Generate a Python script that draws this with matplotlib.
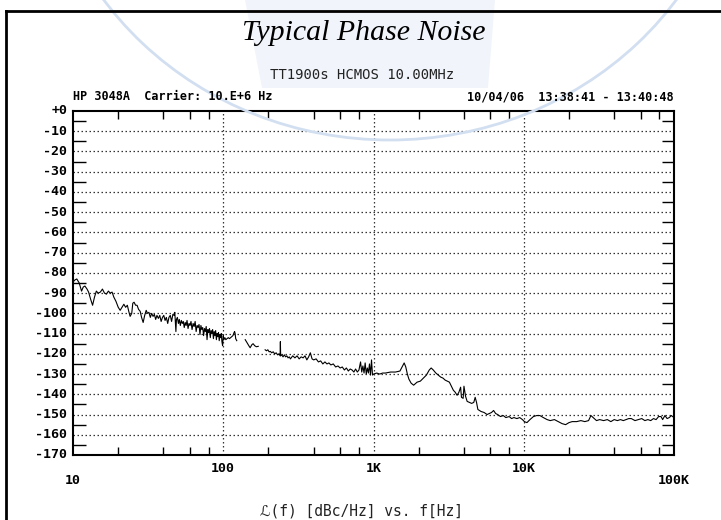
import numpy as np
import matplotlib
matplotlib.use("Agg")
import matplotlib.pyplot as plt
from matplotlib.lines import Line2D
from matplotlib.patches import Polygon, Ellipse
from matplotlib.ticker import FixedLocator, NullFormatter

# Trace data: offset frequency [Hz] and L(f) [dBc/Hz]
# segment 1: 10 Hz .. ~125 Hz
seg1_f = [10, 10.3, 10.6, 11.0, 11.4, 11.7, 12.0, 12.4, 12.7, 13.1, 13.5, 13.9, 14.3, 14.7,
          15.2, 15.7, 16.2, 16.7, 17.2, 17.7, 18.2, 18.7, 19.3, 20.0, 20.6, 21.2, 21.8, 22.4,
          23.0, 23.5, 24.0, 24.6, 25.0, 25.5, 26.1, 26.7, 27.3, 28.0, 28.6, 29.3, 30.0, 30.7,
          31.3, 32.0, 32.7, 33.4, 34.1, 34.8, 35.5, 36.2, 37.0, 37.8, 38.6, 39.4, 40.2, 41.0,
          41.8, 42.7, 43.5, 44.4, 45.3, 46.2, 47.1, 47.6, 48.0, 48.4, 48.8, 49.5, 50.3, 51.0,
          51.8, 52.6, 53.4, 54.2, 55.0, 55.8, 56.6, 57.4, 58.3, 59.2, 60.1, 61.0, 62.0, 63.0,
          64.0, 65.0, 66.0, 67.0, 68.0, 69.0, 70.0, 71.0, 72.0, 73.0, 74.0, 75.0, 76.0, 77.0,
          78.0, 79.0, 80.0, 81.0, 82.0, 83.0, 84.0, 85.0, 86.0, 87.0, 88.0, 89.0, 90.0, 91.0,
          92.0, 93.0, 94.0, 95.0, 96.0, 97.0, 98.0, 99.0, 100.0, 101, 102.5, 104, 106, 108,
          110, 112, 114, 116, 118, 119, 120, 121, 123]
seg1_db = [-84.5, -83.5, -83, -85, -89, -87, -86.5, -88, -89.5, -93, -96, -92, -89, -90,
           -89.5, -88, -90, -90.5, -89, -90, -89.5, -92, -94, -97, -98.5, -97, -95.5, -97,
           -96, -99, -101.5, -100, -95, -94.5, -96, -96, -98, -99, -102, -104.5, -101, -98.5,
           -100, -99.5, -102, -100, -101.5, -100.5, -103, -101, -102.5, -101, -104, -102, -101, -103.5,
           -102, -105, -102, -101, -104, -100.5, -101, -99.5, -104, -109, -103, -102, -105, -103,
           -106, -103.5, -105, -104, -107, -104.5, -106, -103.5, -107.5, -105, -106, -104, -108, -105,
           -106.5, -104, -109, -106, -107, -105.5, -110.5, -106, -108, -107, -111, -107.5, -109, -106.5,
           -113, -108, -109.5, -107.5, -112, -108.5, -110, -108, -112.5, -109, -111, -108.5, -113, -110,
           -111.5, -109.5, -113.5, -110.5, -112, -110, -114, -116, -111, -113, -112, -113, -112.5, -112,
           -112.5, -112, -111.5, -111, -109.5, -109, -110, -112.5, -113.5]

# segment 2: ~140 Hz .. ~170 Hz
seg2_f = [140, 144, 148, 151, 155, 158, 162, 166, 171]
seg2_db = [-113, -114.5, -116, -117, -115.5, -115, -116, -116.5, -116.3]

# segment 3: ~190 Hz .. 100 kHz
seg3_f = [190, 194, 198, 202, 206, 210, 215, 220, 225, 230, 235, 239, 240, 241, 245, 250,
          255, 260, 265, 270, 275, 280, 290, 300, 310, 320, 330, 340, 350, 360, 370, 380,
          390, 400, 415, 430, 445, 460, 475, 490, 505, 520, 540, 560, 580, 600, 620, 640,
          660, 680, 700, 720, 740, 760, 780, 800, 820, 835, 850, 865, 880, 895, 910, 925,
          940, 955, 970, 985, 1000, 1050, 1100, 1150, 1200, 1300, 1400, 1500, 1560, 1600, 1640, 1680,
          1720, 1780, 1850, 1950, 2050, 2150, 2250, 2350, 2420, 2500, 2600, 2700, 2800, 2900, 3000, 3100,
          3200, 3300, 3400, 3500, 3600, 3700, 3800, 3850, 3950, 4000, 4100, 4200, 4350, 4500, 4650, 4750,
          4850, 4950, 5200, 5450, 5700, 5900, 6100, 6300, 6500, 6700, 7000, 7300, 7600, 8000, 8300, 8600,
          9000, 9400, 9800, 10100, 10500, 11000, 11600, 12200, 12800, 13500, 14300, 15000, 16000, 17000, 18000, 19000,
          20000, 21000, 22500, 24000, 25500, 27000, 28000, 29000, 30500, 32000, 34000, 36000, 38000, 40000, 42000, 44000,
          46000, 48000, 50000, 52000, 55000, 58000, 61000, 64000, 67000, 70000, 73000, 76000, 79000, 82000, 84000, 87000,
          90000, 93000, 96000, 100000]
seg3_db = [-118, -118.5, -118, -119, -118.8, -119.5, -119, -120, -119.5, -120.5, -120, -121, -114, -121, -120.5, -121.5,
           -120.5, -121.5, -121, -122, -121.5, -122.5, -121, -122, -121, -122.5, -121.5, -122, -121, -123, -121.5, -119.5,
           -122.5, -123, -122.5, -124, -123.5, -125, -124, -125, -124.5, -125.5, -125, -126.5, -126, -127, -126.5, -128,
           -127, -128.5, -127.5, -128, -129, -127.5, -129, -128, -124, -129, -126, -129.5, -124.5, -130, -127, -129.5,
           -125, -130.5, -123, -130.5, -130, -129.5, -130, -129.5, -129.5, -129, -129, -128.5, -126, -124.5, -126.5, -130,
           -132.5, -134.5, -135.5, -134, -133.5, -132, -130.5, -128, -127, -128, -129.5, -130.5, -131.5, -132, -133, -133.5,
           -134, -136, -138, -139, -140.5, -139, -136.5, -141.5, -142, -136, -141, -143.5, -144, -144.5, -144, -141.5,
           -144, -147.5, -148.5, -149, -150, -149.5, -149, -148, -149.5, -150, -151, -150.5, -151.5, -151, -152, -151.5,
           -152, -151.5, -152.5, -153.5, -154, -152.5, -151, -150.5, -150.5, -151.5, -152.5, -153, -152.5, -153.5, -154.5, -155,
           -154, -153.5, -153.5, -153, -153.5, -153, -150.5, -151.5, -153, -152.5, -153, -152.5, -153.5, -152.5, -153, -152.5,
           -153, -152.5, -152, -152, -153, -152.5, -152, -153, -152.5, -153, -152, -152.5, -151, -151, -152.5, -150.5,
           -152, -151.5, -150.5, -151.5]

x_major = [10, 100, 1000, 10000, 100000]
x_labels = ["10", "100", "1K", "10K", "100K"]
y_major = list(range(0, -171, -10))
y_labels = ["+0"] + [str(v) for v in y_major[1:]]

W, H = 721, 520
fig = plt.figure(figsize=(W / 100, H / 100), dpi=100)

def fx(px):
    return px / W

def fy(py):
    return 1 - py / H

# faint watermark in the background
fig.patches.append(Polygon([[fx(245), fy(0)], [fx(495), fy(0)], [fx(488), fy(88)], [fx(262), fy(88)]],
                           closed=True, transform=fig.transFigure, facecolor="#f1f5fb",
                           edgecolor="none", zorder=0))
fig.patches.append(Ellipse((fx(390), fy(-190)), fx(700), 660 / H, transform=fig.transFigure,
                           facecolor="none", edgecolor="#d2dff1", lw=2, zorder=0))

# outer frame (top and left edges)
fig.lines.append(Line2D([fx(6), fx(721)], [fy(11), fy(11)], transform=fig.transFigure, color="black", lw=2))
fig.lines.append(Line2D([fx(6), fx(6)], [fy(11), fy(520)], transform=fig.transFigure, color="black", lw=2))

ax = fig.add_axes([fx(73), fy(455), fx(674) - fx(73), (455 - 111) / H])
ax.patch.set_alpha(0)

for f, d in [(seg1_f, seg1_db), (seg2_f, seg2_db), (seg3_f, seg3_db)]:
    ax.plot(f, d, color="black", lw=0.8)

ax.set_xscale("log")
ax.set_xlim(10, 100000)
ax.set_ylim(-170, 0)

# dotted grid
for v in y_major[1:-1]:
    ax.axhline(v, color="#333333", lw=0.9, ls=(0, (1.2, 2)), zorder=0)
for v in x_major[1:-1]:
    ax.axvline(v, color="#333333", lw=0.9, ls=(0, (1.2, 2)), zorder=0)

minor_x = [m * 10 ** k for k in range(1, 5) for m in (2, 4, 6, 8)]
ax.xaxis.set_major_locator(FixedLocator(x_major))
ax.xaxis.set_minor_locator(FixedLocator(minor_x))
ax.xaxis.set_major_formatter(NullFormatter())
ax.xaxis.set_minor_formatter(NullFormatter())
ax.yaxis.set_major_locator(FixedLocator(y_major))
ax.yaxis.set_minor_locator(FixedLocator(list(range(-5, -170, -10))))
ax.set_yticklabels([])
ax.tick_params(axis="x", which="major", length=0)
ax.tick_params(axis="x", which="minor", direction="in", length=6, width=1, top=True, bottom=True)
ax.tick_params(axis="y", which="major", direction="in", length=0)
ax.tick_params(axis="y", which="minor", direction="in", length=9, width=1, left=True, right=True)
for s in ax.spines.values():
    s.set_linewidth(1.5)

mono_b = dict(family="DejaVu Sans Mono", fontweight="bold", fontsize=8.5)
tick_b = dict(family="DejaVu Sans Mono", fontweight="bold", fontsize=9.5)
for v, lab in zip(y_major, y_labels):
    ax.annotate(lab, (10, v), xytext=(-4, 0), textcoords="offset points",
                ha="right", va="center", **tick_b)
x_off = [-14, -5, -5, -5, -14]
for v, lab, off in zip(x_major, x_labels, x_off):
    ax.annotate(lab, (v, -170), xytext=(0, off), textcoords="offset points",
                ha="center", va="top", **tick_b)

# titles and header lines
fig.text(fx(364), fy(33), "Typical Phase Noise", family="Liberation Serif", style="italic",
         fontsize=21.5, ha="center", va="center")
fig.text(fx(362), fy(75), "TT1900s HCMOS 10.00MHz", family="DejaVu Sans Mono",
         fontsize=10, ha="center", va="center", color="#222222")
fig.text(fx(73), fy(97), "HP 3048A  Carrier: 10.E+6 Hz", ha="left", va="center", **mono_b)
fig.text(fx(674), fy(97), "10/04/06  13:38:41 - 13:40:48", ha="right", va="center", **mono_b)
fig.text(fx(362), fy(503), "\u2112(f) [dBc/Hz] vs. f[Hz]", family=["DejaVu Sans Mono", "DejaVu Sans"],
         fontsize=10.5, ha="center", va="top", color="#222222")

fig.savefig("out.png", dpi=100)
